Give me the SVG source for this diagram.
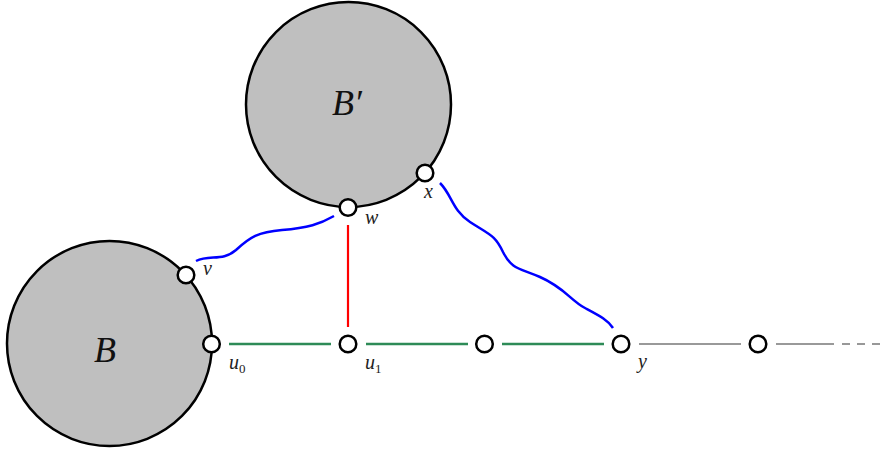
<svg xmlns="http://www.w3.org/2000/svg" width="883" height="453" viewBox="0 0 883 453">
<style>
.blob{fill:#bfbfbf;stroke:#000;stroke-width:2.5}
.node{fill:#fff;stroke:#000;stroke-width:2.5}
.green{stroke:#2e8b57;stroke-width:2.5;fill:none}
.gray{stroke:#777;stroke-width:1.6;fill:none}
.blue{stroke:#0000ff;stroke-width:2.5;fill:none}
.red{stroke:#ff0000;stroke-width:2.2;fill:none}
.lbl{font-family:"Liberation Serif","DejaVu Serif",serif;font-style:italic;font-size:20px;fill:#222}
.big{font-family:"Liberation Serif","DejaVu Serif",serif;font-style:italic;font-size:36px;fill:#111}
</style>
<g id="blobB"><circle class="blob" cx="109.5" cy="343.5" r="102.5"/><text class="big" x="94" y="362">B</text></g>
<g id="blobBp"><circle class="blob" cx="348.5" cy="104.5" r="102.5"/><text class="big" x="332" y="115">B′</text></g>
<g id="connectors">
<line class="green" x1="229" y1="344" x2="331" y2="344"/>
<line class="green" x1="366" y1="344" x2="468" y2="344"/>
<line class="green" x1="502" y1="344" x2="604" y2="344"/>
<line class="gray" x1="639" y1="344" x2="741" y2="344"/>
<line class="gray" x1="776" y1="344" x2="834" y2="344"/>
<line class="gray" x1="842" y1="344" x2="883" y2="344" stroke-dasharray="8,7"/>
<line class="red" x1="348" y1="225" x2="348" y2="327"/>
<path class="blue" d="M196,261 C210,254 222,262 236,250 C250,237 258,232 282,230 C308,228 320,224 334,216"/>
<path class="blue" d="M440,183 C452,195 452,210 470,222 C490,235 495,235 503,252 C512,270 520,268 540,277 C565,288 570,300 585,308 C600,316 608,320 613,328"/>
</g>
<g id="u0"><circle class="node" cx="211.5" cy="344" r="8.3"/><text class="lbl" x="229" y="369">u<tspan font-size="13" dy="4" font-style="normal">0</tspan></text></g>
<g id="u1"><circle class="node" cx="348" cy="344" r="8.3"/><text class="lbl" x="365" y="369">u<tspan font-size="13" dy="4" font-style="normal">1</tspan></text></g>
<g id="n3"><circle class="node" cx="484.5" cy="344" r="8.3"/></g>
<g id="y"><circle class="node" cx="621" cy="344" r="8.3"/><text class="lbl" x="638" y="368">y</text></g>
<g id="n5"><circle class="node" cx="758" cy="344" r="8.3"/></g>
<g id="w"><circle class="node" cx="348" cy="207.5" r="8.3"/><text class="lbl" x="365" y="224">w</text></g>
<g id="x"><circle class="node" cx="425" cy="173" r="8.3"/><text class="lbl" x="424" y="198">x</text></g>
<g id="v"><circle class="node" cx="186" cy="275" r="8.3"/><text class="lbl" x="203" y="275">v</text></g>
</svg>
